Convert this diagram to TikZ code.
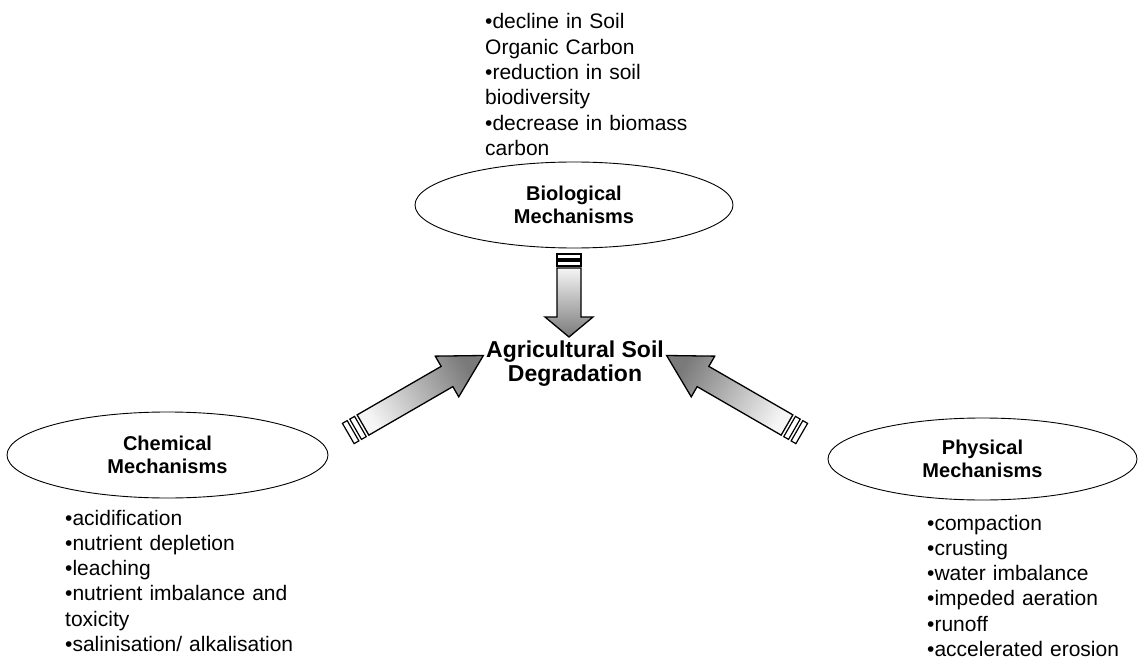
\documentclass[tikz,border=0pt]{standalone}
\usepackage{fontspec}
\setmainfont{Liberation Sans}
\usetikzlibrary{shapes.geometric}

\definecolor{tailgray}{gray}{0.96}
\definecolor{headgray}{gray}{0.48}

\tikzset{
  mech/.style={ellipse, draw=black, line width=0.9bp, fill=white, inner sep=0pt,
    align=center, font=\fontsize{20bp}{23bp}\selectfont\bfseries},
  core/.style={align=center, inner sep=0pt,
    font=\fontsize{23bp}{24bp}\selectfont\bfseries},
  effects/.style={anchor=base west, inner sep=0pt, text width=300bp, align=left,
    font=\fontsize{21bp}{25.3bp}\selectfont},
  arrowline/.style={draw=black, line width=1.3bp, line join=miter},
  barbox/.style={draw=black, line width=1.2bp, fill=white},
}

% block arrow with two bars behind its tail
% #1 tail coordinate, #2 direction, #3 length, #4 head length,
% #5 shaft half width, #6 head half width, #7 bar gap, #8 bar thickness
\newcommand{\blockarrow}[8]{%
  \pgfmathsetmacro{\shadeang}{#2-90}%
  \begin{scope}[shift={(#1)}, rotate=#2]
    \shadedraw[arrowline, top color=headgray, bottom color=tailgray,
      shading angle=\shadeang]
      (0,-#5) -- ({#3-#4},-#5) -- ({#3-#4},-#6) -- (#3,0)
      -- ({#3-#4},#6) -- ({#3-#4},#5) -- (0,#5) -- cycle;
    \draw[barbox] ({-#7},-#5) rectangle ({-#7-#8},#5);
    \draw[barbox] ({-2*#7-#8},-#5) rectangle ({-2*#7-2*#8},#5);
  \end{scope}}

\begin{document}
\begin{tikzpicture}[x=1bp, y=-1bp]
  \useasboundingbox[fill=white] (0,0) rectangle (1138,659);

  % mechanism ellipses
  \node[mech, minimum width=318bp, minimum height=86bp] (bio) at (574,205)
    {Biological\\Mechanisms};
  \node[mech, minimum width=321bp, minimum height=86bp] (chem) at (167.5,455)
    {Chemical\\Mechanisms};
  \node[mech, minimum width=309bp, minimum height=82bp] (phys) at (982.5,459)
    {Physical\\Mechanisms};

  % central outcome
  \node[core] (deg) at (575,364) {Agricultural Soil\\Degradation};

  % effect lists
  \node[effects] (bioList) at (485,29)
    {•decline in Soil\\Organic Carbon\\•reduction in soil\\biodiversity\\%
     •decrease in biomass\\carbon};
  \node[effects] (chemList) at (65,525)
    {•acidification\\•nutrient depletion\\•leaching\\%
     •nutrient imbalance and\\toxicity\\•salinisation/ alkalisation};
  \node[effects] (physList) at (927,530)
    {•compaction\\•crusting\\•water imbalance\\•impeded aeration\\%
     •runoff\\•accelerated erosion};

  % arrow tails
  \coordinate (bioTail) at (569,268);
  \coordinate (chemTail) at (363,425);
  \coordinate (physTail) at (787,425);

  \blockarrow{bioTail}{-90}{69}{20}{12}{24}{2}{5}
  \blockarrow{chemTail}{30}{139}{42}{11.7}{23.5}{3}{5.5}
  \blockarrow{physTail}{150}{139}{42}{11.7}{23.5}{3}{5.5}
\end{tikzpicture}
\end{document}
